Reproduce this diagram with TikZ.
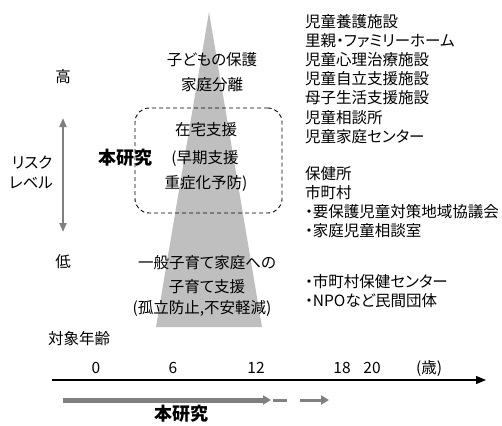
\documentclass[tikz,border=0pt]{standalone}
\usepackage{fontspec}
\setmainfont{Noto Sans CJK JP}[RawFeature=+palt]
\usetikzlibrary{arrows.meta}
\definecolor{trigray}{HTML}{BFBFBF}
\definecolor{arrgray}{HTML}{808080}
\begin{document}
\begin{tikzpicture}[x=1pt,y=-1pt,
  txt/.style={inner sep=0pt, text height=13.6pt, text depth=1.8pt, font=\fontsize{15.5}{19}\selectfont},
  lt/.style={txt, anchor=west},
  bigb/.style={inner sep=0pt, text height=15.8pt, text depth=2.1pt, font=\fontsize{18}{21}\selectfont\bfseries},
]
\useasboundingbox (0,0) rectangle (502,425);
% triangle
\coordinate (apex) at (209,12);
\coordinate (bl) at (156,327);
\coordinate (br) at (262,327);
\fill[trigray] (apex) -- (br) -- (bl) -- cycle;
% dashed box
\node[draw, line width=0.9pt, dash pattern=on 4pt off 3pt, rounded corners=14pt,
      minimum width=147pt, minimum height=105pt, inner sep=0pt] (study) at (208.5,160.5) {};
% texts in triangle
\node[txt] (t1) at (212,60) {子どもの保護};
\node[txt] (t2) at (212,85) {家庭分離};
\node[txt] (t3) at (206,130) {在宅支援};
\node[txt] (t4) at (205,158) {(早期支援};
\node[txt] (t5) at (206,183) {重症化予防)};
\node[txt] (t6) at (207,263) {一般子育て家庭への};
\node[txt] (t7) at (207,287) {子育て支援};
\node[txt] (t8) at (202,308) {(孤立防止,不安軽減)};
\node[bigb] (hon1) at (125,158) {本研究};
% left
\node[txt] (high) at (63,77) {高};
\node[txt] (low) at (63,262) {低};
\node[txt] (risk1) at (32,163) {リスク};
\node[txt] (risk2) at (31,183) {レベル};
\coordinate (rtop) at (63,118);
\coordinate (rbot) at (63,232);
\draw[arrgray, line width=2pt, {Triangle[length=9pt,width=7pt]}-{Triangle[length=9pt,width=7pt]}] (rtop) -- (rbot);
% right column
\node[lt] (r1) at (305,22) {児童養護施設};
\node[lt] (r2) at (305,41) {里親・ファミリーホーム};
\node[lt] (r3) at (305,60) {児童心理治療施設};
\node[lt] (r4) at (305,79) {児童自立支援施設};
\node[lt] (r5) at (305,98) {母子生活支援施設};
\node[lt] (r6) at (305,118) {児童相談所};
\node[lt] (r7) at (305,137) {児童家庭センター};
\node[lt] (r8) at (305,174) {保健所};
\node[lt] (r9) at (305,193) {市町村};
\node[lt] (r10) at (305,212) {・要保護児童対策地域協議会};
\node[lt] (r11) at (305,231) {・家庭児童相談室};
\node[lt] (r12) at (305,282) {・市町村保健センター};
\node[lt] (r13) at (305,301) {・NPOなど民間団体};
% age axis
\node[lt] (age) at (48,339) {対象年齢};
\node[txt] (a0) at (96,368) {0};
\node[txt] (a6) at (173,368) {6};
\node[txt] (a12) at (256,368) {12};
\node[txt] (a18) at (342,368) {18};
\node[txt] (a20) at (372,368) {20};
\node[txt] (unit) at (429,368) {(歳)};
\coordinate (ax0) at (52,380);
\coordinate (ax1) at (486,380);
\draw[line width=1.2pt, -{Triangle[length=10pt,width=8pt]}] (ax0) -- (ax1);
% study range
\coordinate (s0) at (63,400);
\coordinate (s1) at (271,400);
\coordinate (s2) at (273,400);
\coordinate (s3) at (329,400);
\draw[arrgray, line width=5pt, -{Triangle[length=8pt,width=9pt]}] (s0) -- (s1);
\draw[arrgray, line width=3pt, dash pattern=on 14pt off 13pt on 30pt off 1pt, -{Triangle[length=8pt,width=9pt]}] (s2) -- (s3);
\node[bigb] (hon2) at (181,414) {本研究};
\end{tikzpicture}
\end{document}
